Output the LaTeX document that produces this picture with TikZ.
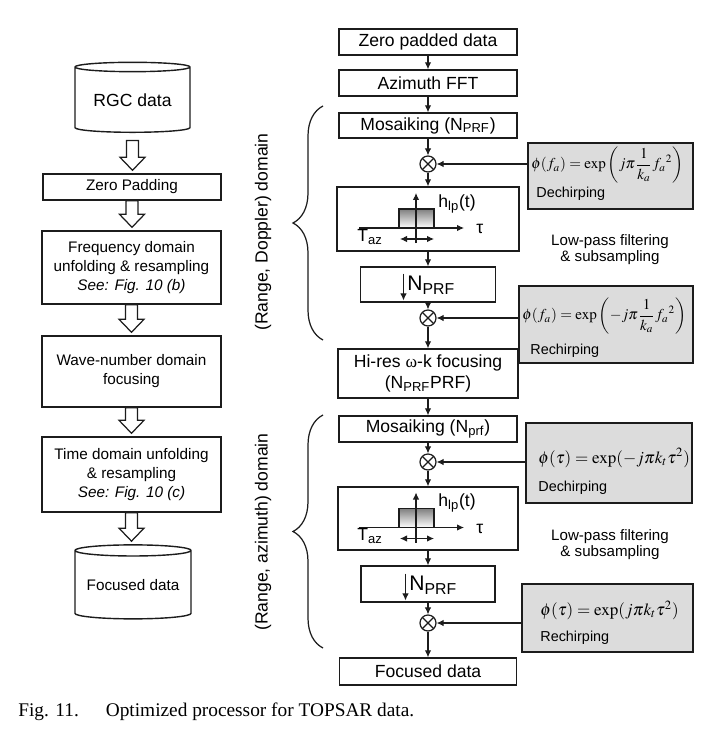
\documentclass[tikz,border=0pt]{standalone}
\usepackage{amsmath}
\usepackage{mathptmx}
\usepackage[no-math]{fontspec}
\setmainfont{Liberation Sans}
\newfontfamily\capfont{Liberation Serif}
\usepackage{tikz}
\usetikzlibrary{arrows.meta,decorations.pathreplacing,calc,shapes.geometric}
\definecolor{ink}{HTML}{1C1C1C}
\definecolor{shade}{HTML}{DCDCDC}
% low-pass filter sketch, drawn round the centre of its box
\newcommand{\lpsketch}[1]{%
  \fill[shade] (-29,-10) rectangle (6,9);
  \draw[ink, line width=0.6pt] (-29,9) -- (-29,-10) -- (6,-10) -- (6,9);
  \draw[->, ink, line width=0.6pt] (-69,9) -- (36,9);
  \draw[->, ink, line width=0.6pt] (-12,24) -- (-12,-26);
  \draw[<->, ink, line width=0.6pt] (-28,20) -- (6,20);
  \node[anchor=north west, inner sep=0pt] (#1taz) at (-71,10) {T\textsubscript{az}};
  \node[anchor=north west, inner sep=0pt] (#1h) at (10,-25) {h\textsubscript{lp}(t)};
  \node[anchor=west, inner sep=0pt] (#1tau) at (48,10) {τ};
}

\begin{document}
\begin{tikzpicture}[x=0.2mm, y=-0.2mm, font=\fontsize{10}{12}\selectfont,
    >={Latex[length=1.4mm,width=1.3mm]},
    blk/.style={draw=ink, line width=0.8pt, inner sep=0pt, align=center},
    gbox/.style={draw=ink, line width=0.8pt, fill=shade},
    cyl/.style={cylinder, shape border rotate=90, draw=ink, line width=0.8pt, aspect=0.12, inner sep=0pt},
    mix/.style={circle, draw=ink, line width=0.7pt, minimum size=3.2mm, inner sep=0pt,
      path picture={\draw[ink, line width=0.7pt]
        (path picture bounding box.north west) -- (path picture bounding box.south east)
        (path picture bounding box.north east) -- (path picture bounding box.south west);}},
    flow/.style={->, ink, line width=0.6pt},
    hollow/.style={draw=ink, line width=0.7pt, fill=white},
    small/.style={font=\fontsize{8.7}{10.8}\selectfont},
    note/.style={anchor=west, inner sep=0pt, font=\fontsize{8.2}{10}\selectfont},
    eqn/.style={anchor=west, inner sep=0pt, font=\fontsize{#1}{12}\selectfont}]

  \useasboundingbox (0,0) rectangle (701,743);

  % left column: the processor as a whole
  \node[cyl, minimum width=23mm, minimum height=14mm] (rgc) at (132.5,100) {RGC data};
  \node[blk, small, minimum width=35.6mm, minimum height=5.2mm] (zp) at (132,187) {Zero Padding};
  \node[blk, small, minimum width=35.8mm, minimum height=14.6mm] (freq) at (131.5,267.5)
    {Frequency domain\\unfolding \& resampling\\\textit{See: Fig. 10 (b)}};
  \node[blk, small, minimum width=35.8mm, minimum height=14.2mm] (wave) at (131.5,371.5)
    {Wave-number domain\\focusing};
  \node[blk, small, minimum width=35.8mm, minimum height=15mm] (tdom) at (131.5,474.5)
    {Time domain unfolding\\\& resampling\\\textit{See: Fig. 10 (c)}};
  \node[cyl, small, minimum width=23.2mm, minimum height=14.8mm] (foc) at (133,585) {Focused data};
  \foreach \a/\b/\gp in {rgc/zp/1.5, zp/freq/0, freq/wave/0, wave/tdom/0, tdom/foc/0}
    \draw[hollow] let \p1=(\a.south), \p2=(\b.north) in
      (\x1-1.2mm,\y1-\gp mm) -- (\x1-1.2mm,\y2+3.2mm) -- (\x1-2.5mm,\y2+3.2mm)
      -- (\x1,\y2+0.6mm) -- (\x1+2.5mm,\y2+3.2mm) -- (\x1+1.2mm,\y2+3.2mm)
      -- (\x1+1.2mm,\y1-\gp mm) -- cycle;

  % right column: range-Doppler part
  \node[blk, minimum width=35.6mm, minimum height=5.2mm] (zpd) at (428,42) {Zero padded data};
  \node[blk, minimum width=35.6mm, minimum height=5.2mm] (fft) at (428,83) {Azimuth FFT};
  \node[blk, minimum width=35.6mm, minimum height=5mm] (mos1) at (428,125.5) {Mosaiking (N\textsubscript{PRF})};
  \node[mix] (mul1) at (428,164) {};
  \node[blk, minimum width=36.4mm, minimum height=12.8mm] (lpf1) at (428,219) {};
  \begin{scope}[shift={(lpf1.center)}]
    \lpsketch{lpfa}
  \end{scope}
  \node[blk, minimum width=27mm, minimum height=7mm] (sub1) at (428,284.5) {};
  \node[anchor=west, inner sep=0pt, font=\fontsize{12}{14}\selectfont] (sub1n) at (407,285) {N\textsubscript{PRF}};
  \draw[->, ink, line width=0.6pt] ([xshift=-0.7mm,yshift=0.4mm]sub1n.north west) -- ([xshift=-0.7mm,yshift=-1.2mm]sub1n.south west);
  \node[mix] (mul2) at (428,318) {};
  \node[blk, minimum width=36mm, minimum height=9.8mm] (hires) at (428,373.5)
    {Hi-res {\capfont ω}-k focusing\\(N\textsubscript{PRF}PRF)};

  \node[gbox, minimum width=33mm, minimum height=13.2mm] (dech1) at (610.5,176) {};
  \node[eqn=8.6] (dech1f) at (531,165)
    {$\phi(f_a)=\exp\left(j\pi\dfrac{1}{k_a}{f_a}^{2}\right)$};
  \node[note] (dech1t) at (536,194) {Dechirping};
  \node[gbox, minimum width=34.8mm, minimum height=15.4mm] (rech1) at (606,324.5) {};
  \node[eqn=8.6] (rech1f) at (522,316)
    {$\phi(f_a)=\exp\left(-j\pi\dfrac{1}{k_a}{f_a}^{2}\right)$};
  \node[note] (rech1t) at (530,351) {Rechirping};
  \node[align=center, font=\fontsize{8.6}{9.2}\selectfont] (lp1) at (610,250) {Low-pass filtering\\\& subsampling};

  % right column: range-azimuth part
  \node[blk, minimum width=35.6mm, minimum height=5.2mm] (mos2) at (428,429) {Mosaiking (N\textsubscript{prf})};
  \node[mix] (mul3) at (428,462) {};
  \node[blk, minimum width=36mm, minimum height=12.6mm] (lpf2) at (428,518.5) {};
  \begin{scope}[shift={(lpf2.center)}]
    \lpsketch{lpfb}
  \end{scope}
  \node[blk, minimum width=26.8mm, minimum height=7.2mm] (sub2) at (428,584) {};
  \node[anchor=west, inner sep=0pt, font=\fontsize{12}{14}\selectfont] (sub2n) at (409,585) {N\textsubscript{PRF}};
  \draw[->, ink, line width=0.6pt] ([xshift=-0.7mm,yshift=0.4mm]sub2n.north west) -- ([xshift=-0.7mm,yshift=-1.2mm]sub2n.south west);
  \node[mix] (mul4) at (428,623) {};
  \node[blk, minimum width=35.4mm, minimum height=5.4mm] (out) at (428,671.5) {Focused data};

  \node[gbox, minimum width=33.2mm, minimum height=16mm] (dech2) at (609,463) {};
  \node[eqn=9.7] (dech2f) at (538,458) {$\phi(\tau)=\exp(-j\pi k_t\tau^2)$};
  \node[note] (dech2t) at (538,488) {Dechirping};
  \node[gbox, minimum width=34.2mm, minimum height=13.6mm] (rech2) at (607.5,618) {};
  \node[eqn=9.7] (rech2f) at (540,610) {$\phi(\tau)=\exp(j\pi k_t\tau^2)$};
  \node[note] (rech2t) at (540,638) {Rechirping};
  \node[align=center, font=\fontsize{8.6}{9.2}\selectfont] (lp2) at (610,545) {Low-pass filtering\\\& subsampling};

  \foreach \a/\b in {zpd/fft, fft/mos1, mos1/mul1, mul1/lpf1, lpf1/sub1, sub1/mul2, mul2/hires,
                     hires/mos2, mos2/mul3, mul3/lpf2, lpf2/sub2, sub2/mul4, mul4/out}
    \draw[flow] (\a) -- (\b);
  \foreach \g/\m in {dech1/mul1, rech1/mul2, dech2/mul3, rech2/mul4}
    \draw[flow] (\g.west |- \m) -- (\m);

  % the two domains
  \coordinate (b1a) at (323,340);
  \coordinate (b1b) at (323,106);
  \coordinate (b2a) at (323,648);
  \coordinate (b2b) at (323,415);
  \draw[ink, line width=0.7pt, decorate, decoration={brace, amplitude=6mm}] (b1a) -- (b1b);
  \draw[ink, line width=0.7pt, decorate, decoration={brace, amplitude=6mm}] (b2a) -- (b2b);
  \node[rotate=90] (rdom) at (263,232) {(Range, Doppler) domain};
  \node[rotate=90] (adom) at (263,532) {(Range, azimuth) domain};

  \node[anchor=west, inner sep=0pt, font={\capfont\fontsize{11}{13}\selectfont}] (cap) at (18,712)
    {Fig. 11.\hspace{5.4mm}Optimized processor for TOPSAR data.};
\end{tikzpicture}
\end{document}
